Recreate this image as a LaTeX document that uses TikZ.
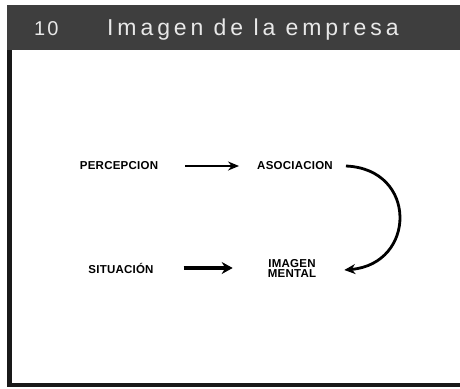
\documentclass[tikz,border=0pt]{standalone}
\usepackage{fontspec}
\setmainfont{Liberation Sans}
\usetikzlibrary{arrows.meta}
\definecolor{headbg}{RGB}{62,62,62}
\definecolor{headtx}{RGB}{232,232,232}
\tikzset{
  lbl/.style={font=\fontsize{11.5}{11}\selectfont\bfseries\addfontfeature{LetterSpace=2}, inner sep=0pt, align=center},
  arr/.style={-{Stealth[length=11pt,width=9pt]}, line width=2.6pt},
  thickarr/.style={-{Stealth[length=11pt,width=12pt]}, line width=4pt},
  curvearr/.style={-{Stealth[length=11pt,width=10pt]}, line width=2.8pt}
}
\begin{document}
\begin{tikzpicture}[x=1pt,y=-1pt]
\useasboundingbox (0,0) rectangle (460,388);
\fill[white] (0,0) rectangle (460,388);
% header band
\fill[headbg] (7,5) rectangle (460,50);
% frame
\fill[black!90] (7,50) rectangle (12,387);
\fill[black!90] (7,383) rectangle (460,387);
\node[font=\fontsize{20}{20}\selectfont\addfontfeature{LetterSpace=10}, text=headtx, anchor=base west, inner sep=0pt] (num) at (34,35) {10};
\node[font=\fontsize{23}{24}\selectfont\addfontfeature{LetterSpace=17}, text=headtx, anchor=base west, inner sep=0pt] (title) at (107,35) {Imagen de la empresa};
% diagram
\node[lbl] (perc) at (119,166) {PERCEPCION};
\node[lbl] (aso) at (295,166) {ASOCIACION};
\node[lbl] (sit) at (121,268) {SITUACIÓN};
\node[lbl] (img) at (292,268) {IMAGEN\\[-1pt]MENTAL};
\draw[arr, shorten <=27pt, shorten >=18pt] (perc.east) -- (aso.west);
\draw[thickarr, shorten <=30pt, shorten >=35pt] (sit.east) -- (img.west);
\draw[curvearr] ([xshift=13pt]aso.east) .. controls +(72,3) and +(72,-6) .. ([xshift=28pt,yshift=-2pt]img.east);
\end{tikzpicture}
\end{document}
